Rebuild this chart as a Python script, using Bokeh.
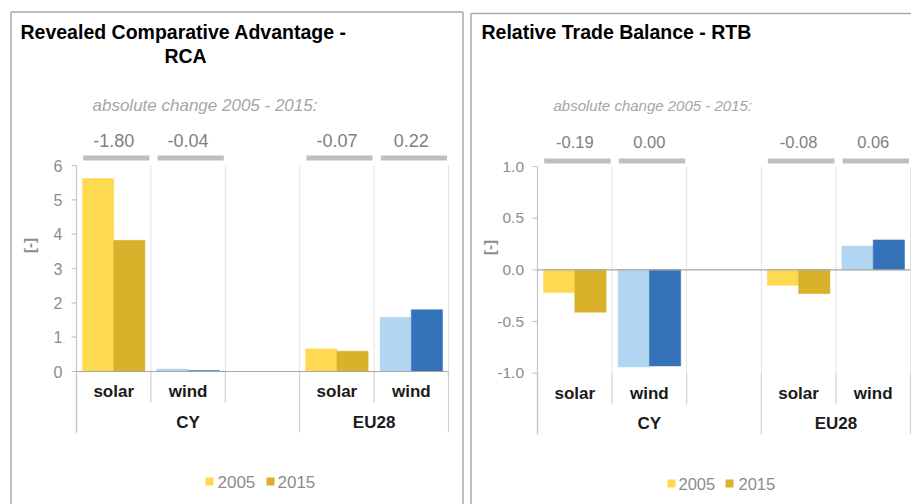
import math
from bokeh.plotting import figure
from bokeh.models import Range1d, ColumnDataSource
from bokeh.layouts import row
from bokeh.core.properties import value
from bokeh.embed import file_html
from bokeh.resources import INLINE

# ---------------- data ----------------
groups = ["CY", "EU28"]
techs = ["solar", "wind"]
years = ["2005", "2015"]

rca_2005 = [5.62, 0.07, 0.66, 1.58]
rca_2015 = [3.82, 0.03, 0.59, 1.80]
rca_change = ["-1.80", "-0.04", "-0.07", "0.22"]

rtb_2005 = [-0.22, -0.94, -0.15, 0.23]
rtb_2015 = [-0.41, -0.93, -0.23, 0.29]
rtb_change = ["-0.19", "0.00", "-0.08", "0.06"]

rca_ticks = [0, 1, 2, 3, 4, 5, 6]
rca_tick_labels = ["0", "1", "2", "3", "4", "5", "6"]
rtb_ticks = [-1.0, -0.5, 0.0, 0.5, 1.0]
rtb_tick_labels = ["-1.0", "-0.5", "0.0", "0.5", "1.0"]

col_2005 = {"solar": "#FFD951", "wind": "#B2D6F1"}
col_2015 = {"solar": "#D9B12A", "wind": "#3473BA"}

FONT = value("Liberation Sans")
H = 504
TOP = 0  # page offset of the canvas


def build(title_lines, fig_left, width, axis_px, slot_px, v_lo, px_lo, v_hi, px_hi,
          vals05, vals15, changes, ticks, tick_labels, st):
    k = (px_lo - px_hi) / (v_hi - v_lo)
    cx0 = axis_px - fig_left
    xr = Range1d(-cx0 / slot_px, (width - cx0) / slot_px)
    yr = Range1d(v_lo + (px_lo - TOP - H) / k, v_lo + (px_lo - TOP) / k)

    def X(px):
        return (px - axis_px) / slot_px

    def Y(py):
        return v_lo + (px_lo - py) / k

    p = figure(width=width, height=H, x_range=xr, y_range=yr,
               toolbar_location=None, output_backend="svg",
               x_axis_type=None, y_axis_type=None,
               min_border=0, min_border_left=0, min_border_right=0,
               min_border_top=0, min_border_bottom=0,
               outline_line_color=None, background_fill_color="white",
               border_fill_color="white")
    p.grid.visible = False

    # slot layout: each group gets one slot per tech, plus a blank slot between groups
    slots = []
    group_span = []
    s = 0
    for gi, g in enumerate(groups):
        start = s
        for t in techs:
            slots.append(s)
            s += 1
        if gi < len(groups) - 1:
            s += 1  # blank slot belongs to this group
        group_span.append((start, s))
    n_slots = s
    cat_tech = [t for g in groups for t in techs]

    plot_top = max(ticks)
    plot_bot = min(ticks)
    bot_px = px_lo - (plot_bot - v_lo) * k
    lvl1 = Y(bot_px + 31)
    lvl2 = Y(bot_px + 61)

    # panel border
    p.segment(x0=[X(st["bl"]), X(st["bl"]), X(st["br"])],
              y0=[Y(700), Y(st["bt"]), Y(st["bt"])],
              x1=[X(st["bl"]), X(st["br"]), X(st["br"])],
              y1=[Y(st["bt"]), Y(st["bt"]), Y(700)],
              line_color="#A8A8A8", line_width=1.5)

    # inner vertical separators in plot area
    inner = list(range(1, n_slots + 1))
    p.segment(x0=inner, x1=inner, y0=[plot_top] * len(inner), y1=[plot_bot] * len(inner),
              line_color="#E4E4E4", line_width=1)
    # label-area separators
    grp_bounds = sorted(set([a for a, b in group_span] + [group_span[-1][1]]))
    lvl1_bounds = [b for b in range(1, n_slots + 1) if b not in grp_bounds]
    p.segment(x0=lvl1_bounds, x1=lvl1_bounds, y0=[plot_bot] * len(lvl1_bounds),
              y1=[lvl1] * len(lvl1_bounds), line_color="#CFCFCF", line_width=1.2)
    p.segment(x0=grp_bounds, x1=grp_bounds, y0=[plot_bot] * len(grp_bounds),
              y1=[lvl2] * len(grp_bounds), line_color="#CFCFCF", line_width=1.2)
    # y axis line
    p.segment(x0=[0], x1=[0], y0=[plot_top], y1=[lvl2], line_color="#C4C4C4", line_width=1.2)

    # bars
    c05 = [col_2005[t] for t in cat_tech]
    c15 = [col_2015[t] for t in cat_tech]
    src05 = ColumnDataSource(dict(x=[sl + 0.29 for sl in slots], top=vals05, color=c05))
    src15 = ColumnDataSource(dict(x=[sl + 0.71 for sl in slots], top=vals15, color=c15))
    p.vbar(x="x", top="top", bottom=0, width=0.42, fill_color="color",
           line_color="color", line_width=0.5, source=src05)
    p.vbar(x="x", top="top", bottom=0, width=0.42, fill_color="color",
           line_color="color", line_width=0.5, source=src15)

    # zero line
    p.segment(x0=[0], x1=[n_slots], y0=[0], y1=[0], line_color="#A6A6A6", line_width=1.2)

    # y ticks
    p.segment(x0=[X(axis_px - 5)] * len(ticks), x1=[0] * len(ticks), y0=ticks, y1=ticks,
              line_color="#C4C4C4", line_width=1.2)
    p.text(x=[X(st["tick_r"])] * len(ticks), y=ticks, text=tick_labels,
           text_font=FONT, text_font_size=value(st["tick_fs"]), text_color="#8C8C8C",
           text_align="right", text_baseline="middle")
    # y axis title
    p.text(x=[X(st["ylab_x"])], y=[Y(st["ylab_y"])], text=["[-]"], angle=math.pi / 2,
           text_font=FONT, text_font_size=value("15px"), text_font_style="bold",
           text_color="#8C8C8C", text_align="center", text_baseline="middle")

    # category labels
    p.text(x=[sl + 0.5 for sl in slots], y=[Y(st["cat_y"])] * len(slots), text=cat_tech,
           text_font=FONT, text_font_size=value("17px"), text_font_style="bold",
           text_color="#1A1A1A", text_align="center", text_baseline="middle")
    p.text(x=[(a + b) / 2 for a, b in group_span], y=[Y(st["grp_y"])] * len(groups),
           text=groups, text_font=FONT, text_font_size=value("17px"), text_font_style="bold",
           text_color="#1A1A1A", text_align="center", text_baseline="middle")

    # change bars and labels
    hb = st["gbar_h"] / k
    p.quad(left=[sl + 0.09 for sl in slots], right=[sl + 0.98 for sl in slots],
           top=[Y(st["gbar_y"]) + hb / 2] * len(slots),
           bottom=[Y(st["gbar_y"]) - hb / 2] * len(slots),
           fill_color="#BFBFBF", line_color=None)
    p.text(x=[sl + 0.5 for sl in slots], y=[Y(st["chg_y"])] * len(slots), text=changes,
           text_font=FONT, text_font_size=value(st["chg_fs"]), text_color="#7F7F7F",
           text_align="center", text_baseline="middle")
    p.text(x=[X(st["abs_x"])], y=[Y(st["abs_y"])], text=["absolute change 2005 - 2015:"],
           text_font=FONT, text_font_size=value(st["abs_fs"]), text_font_style="italic",
           text_color="#A6A6A6", text_align="left", text_baseline="middle")

    # titles
    for (txt, tx, ty, al) in title_lines:
        p.text(x=[X(tx)], y=[Y(ty)], text=[txt], text_font=FONT,
               text_font_size=value("19.5px"), text_font_style="bold",
               text_color="#000000", text_align=al, text_baseline="middle")

    # legend
    lx = st["leg"]
    p.scatter(x=[X(lx[0]), X(lx[2])], y=[Y(st["leg_y"])] * 2, marker="square", size=8,
              fill_color=[col_2005["solar"], col_2015["solar"]], line_color=None)
    p.text(x=[X(lx[1]), X(lx[3])], y=[Y(st["leg_y"])] * 2, text=years,
           text_font=FONT, text_font_size=value(st["leg_fs"]), text_color="#8C8C8C",
           text_align="left", text_baseline="middle")
    return p


left = build(
    [("Revealed Comparative Advantage -", 20, 31, "left"), ("RCA", 185, 55, "center")],
    fig_left=0, width=466, axis_px=76, slot_px=74.4,
    v_lo=0, px_lo=371, v_hi=6, px_hi=165,
    vals05=rca_2005, vals15=rca_2015, changes=rca_change,
    ticks=rca_ticks, tick_labels=rca_tick_labels,
    st=dict(bl=10.5, br=462.5, bt=11.5, tick_r=62, tick_fs="16px", ylab_x=28.5, ylab_y=245,
            cat_y=391, grp_y=422, gbar_y=157.5, gbar_h=5, chg_y=140, chg_fs="18px",
            abs_x=92, abs_y=105, abs_fs="17px", leg=(209, 217, 270, 277), leg_y=481,
            leg_fs="17px"))

right = build(
    [("Relative Trade Balance - RTB", 481, 31, "left")],
    fig_left=466, width=445, axis_px=537, slot_px=74.6,
    v_lo=-1.0, px_lo=372.7, v_hi=1.0, px_hi=166,
    vals05=rtb_2005, vals15=rtb_2015, changes=rtb_change,
    ticks=rtb_ticks, tick_labels=rtb_tick_labels,
    st=dict(bl=470.5, br=930, bt=13, tick_r=523.5, tick_fs="15.5px", ylab_x=489, ylab_y=247,
            cat_y=393, grp_y=423, gbar_y=160.5, gbar_h=5, chg_y=141, chg_fs="16.5px",
            abs_x=553, abs_y=105, abs_fs="15px", leg=(671, 678, 729, 738), leg_y=483,
            leg_fs="16.5px"))

layout = row(left, right)
open("out.html", "w").write(file_html(layout, INLINE))
